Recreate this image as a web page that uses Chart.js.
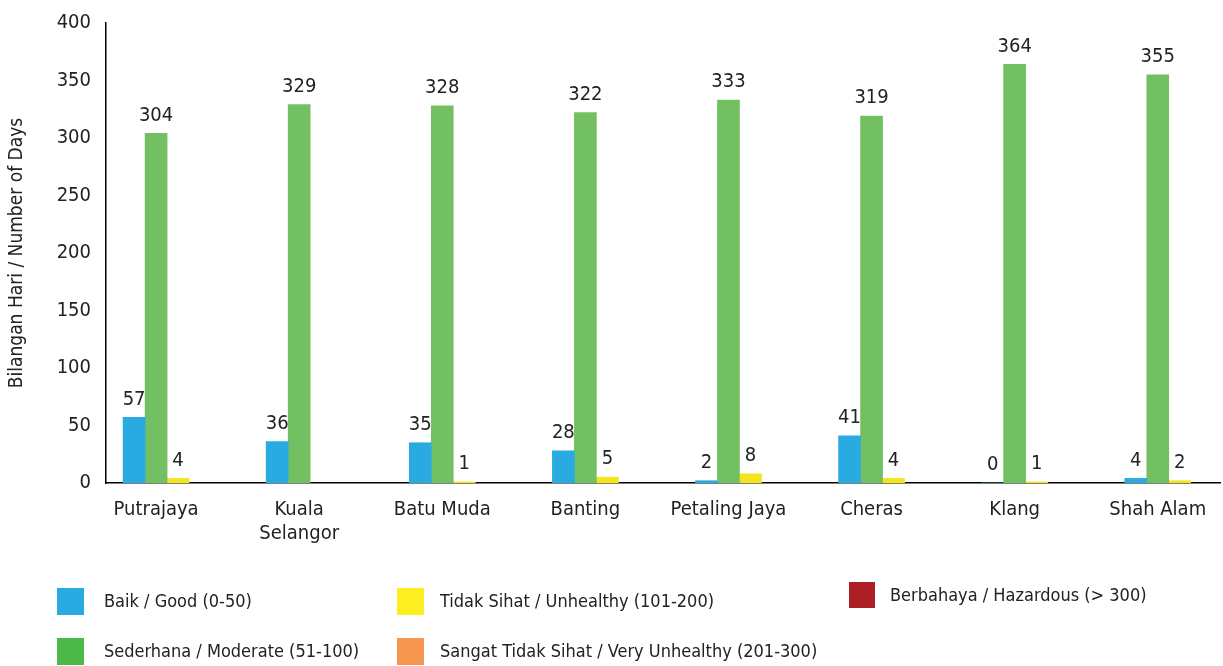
<!DOCTYPE html>
<html><head><meta charset="utf-8">
<script src="https://cdn.jsdelivr.net/npm/chart.js@4/dist/chart.umd.min.js"></script>
<style>html,body{margin:0;padding:0;background:#fff;overflow:hidden}#wrap{position:relative;width:1223px;height:666px}</style>
</head><body><div id="wrap"><canvas id="c" width="1223" height="666"></canvas></div>
<script>
// ---- data ----
const categories = [['Putrajaya'], ['Kuala', 'Selangor'], ['Batu Muda'], ['Banting'], ['Petaling Jaya'], ['Cheras'], ['Klang'], ['Shah Alam']];
const seriesNames = ['Baik / Good (0-50)', 'Sederhana / Moderate (51-100)', 'Tidak Sihat / Unhealthy (101-200)', 'Sangat Tidak Sihat / Very Unhealthy (201-300)', 'Berbahaya / Hazardous (> 300)'];
const good = [57, 36, 35, 28, 2, 41, 0, 4];
const moderate = [304, 329, 328, 322, 333, 319, 364, 355];
const unhealthy = [4, null, 1, 5, 8, 4, 1, 2];
const veryUnhealthy = [null, null, null, null, null, null, null, null];
const hazardous = [null, null, null, null, null, null, null, null];
const yTicks = [0, 50, 100, 150, 200, 250, 300, 350, 400];
const yTitle = 'Bilangan Hari / Number of Days';

// ---- styles ----
const barColors = ['#29ABE2', '#73C063', '#F4E51A', '#F7964F', '#A91E23'];
const legendColors = ['#29ABE2', '#4CB848', '#FCEE21', '#F7964F', '#AD1F24'];
const FONT = "'DejaVu Sans Condensed', 'Liberation Sans Narrow', 'DejaVu Sans', sans-serif";
Chart.defaults.font.family = FONT;
Chart.defaults.color = '#222';

const seriesValues = [good, moderate, unhealthy, veryUnhealthy, hazardous];
const toPoints = arr => arr.map((v, i) => ({ x: i, y: v }));

const datasets = seriesValues.map((vals, k) => ({
  label: seriesNames[k],
  data: toPoints(vals),
  backgroundColor: barColors[k],
  barThickness: 22,
  hidden: vals.every(v => v === null)
}));

const valueLabels = {
  id: 'valueLabels',
  afterDatasetsDraw(chart) {
    const ctx = chart.ctx;
    ctx.save();
    ctx.font = '20px ' + FONT;
    ctx.fillStyle = '#222';
    ctx.textAlign = 'center';
    ctx.textBaseline = 'bottom';
    chart.data.datasets.forEach((ds, i) => {
      if (!chart.isDatasetVisible(i)) return;
      const meta = chart.getDatasetMeta(i);
      meta.data.forEach((el, j) => {
        const v = ds.data[j].y;
        if (v === null || v === undefined) return;
        ctx.fillText(String(v), el.x, el.y - 8);
      });
    });
    ctx.restore();
  }
};

// legend layout slots (square x, square y, square size, text x)
const legendSlots = [
  [57, 588, 27, 104],
  [57, 638, 27, 104],
  [397, 588, 27, 440],
  [397, 638, 27, 440],
  [849, 582, 26, 890]
];
const customLegend = {
  id: 'customLegend',
  afterDraw(chart) {
    const ctx = chart.ctx;
    ctx.save();
    ctx.font = '18px ' + FONT;
    ctx.textBaseline = 'middle';
    ctx.textAlign = 'left';
    chart.data.datasets.forEach((ds, i) => {
      const [sx, sy, s, tx] = legendSlots[i];
      ctx.fillStyle = legendColors[i];
      ctx.fillRect(sx, sy, s, s);
      ctx.fillStyle = '#222';
      ctx.fillText(ds.label, tx, sy + s / 2 + 1);
    });
    ctx.restore();
  }
};

new Chart(document.getElementById('c'), {
  type: 'bar',
  data: { datasets },
  plugins: [valueLabels, customLegend],
  options: {
    responsive: false,
    animation: false,
    devicePixelRatio: 1,
    layout: { padding: { top: 23, right: 3, bottom: 105, left: 0 } },
    plugins: { legend: { display: false }, tooltip: { enabled: false } },
    scales: {
      x: {
        type: 'linear',
        offset: false,
        min: -0.35,
        max: 7.435,
        grid: { display: false, drawTicks: false, offset: false },
        border: { display: true, color: '#000', width: 1.5 },
        ticks: {
          stepSize: 1,
          includeBounds: false,
          autoSkip: false,
          maxRotation: 0,
          padding: 15,
          font: { size: 20 },
          color: '#222',
          callback: v => (Number.isInteger(v) && categories[v]) ? categories[v] : ''
        }
      },
      y: {
        min: 0,
        max: 400,
        afterFit: s => { s.width = 106; s.paddingTop = 0; s.paddingBottom = 0; },
        afterBuildTicks: s => { s.ticks = yTicks.map(v => ({ value: v })); },
        grid: { display: false, drawTicks: false },
        border: { display: true, color: '#000', width: 1.5 },
        ticks: { padding: 15, font: { size: 20 }, color: '#222' },
        title: { display: true, text: yTitle, font: { size: 19 }, color: '#222', padding: { top: 6, bottom: 0 } }
      }
    }
  }
});
</script></body></html>
